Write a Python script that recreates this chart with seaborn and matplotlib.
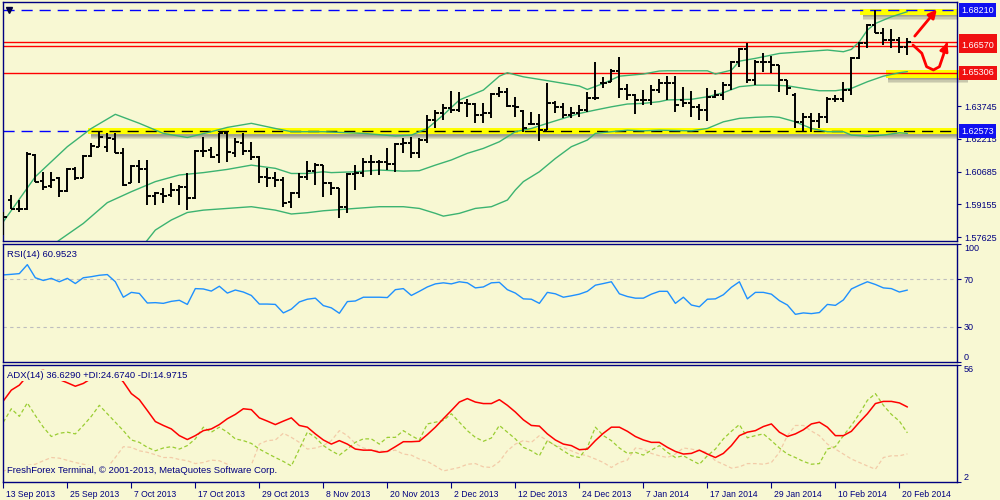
import matplotlib
matplotlib.use('Agg')
import matplotlib.pyplot as plt
import matplotlib.transforms as mtransforms
from matplotlib.patches import Rectangle
import numpy as np
import seaborn as sns

# ---- data (daily GBPUSD style bars, index = bar number) ----
bar_idx = np.arange(114)

opens = [1.5796, 1.5936, 1.5893, 1.5893, 1.6146, 1.6025, 1.6001, 1.6037, 1.5978, 1.6079,
         1.6040, 1.6141, 1.6185, 1.6185, 1.6219, 1.6154, 1.6017, 1.6096, 1.6081, 1.5956,
         1.5962, 1.5959, 1.5983, 1.5995, 1.5944, 1.6165, 1.6169, 1.6146, 1.6250, 1.6157,
         1.6200, 1.6166, 1.6138, 1.6045, 1.6037, 1.6029, 1.5928, 1.5967, 1.6045, 1.6073,
         1.6099, 1.6014, 1.5990, 1.5902, 1.6057, 1.6060, 1.6115, 1.6115, 1.6112, 1.6102,
         1.6197, 1.6200, 1.6154, 1.6216, 1.6309, 1.6340, 1.6364, 1.6356, 1.6387, 1.6384,
         1.6333, 1.6343, 1.6430, 1.6441, 1.6374, 1.6353, 1.6291, 1.6291, 1.6263, 1.6387,
         1.6368, 1.6333, 1.6340, 1.6356, 1.6410, 1.6480, 1.6488, 1.6539, 1.6452, 1.6426,
         1.6403, 1.6403, 1.6449, 1.6480, 1.6480, 1.6403, 1.6387, 1.6371, 1.6356, 1.6418,
         1.6426, 1.6472, 1.6581, 1.6639, 1.6496, 1.6581, 1.6581, 1.6566, 1.6496, 1.6426,
         1.6301, 1.6322, 1.6306, 1.6325, 1.6406, 1.6407, 1.6449, 1.6597, 1.6667, 1.6752,
         1.6714, 1.6682, 1.6682, 1.6651]
highs = [1.5882, 1.5960, 1.5936, 1.6158, 1.6151, 1.6068, 1.6068, 1.6042, 1.6084, 1.6092,
         1.6146, 1.6200, 1.6252, 1.6247, 1.6247, 1.6177, 1.6099, 1.6123, 1.6123, 1.5975,
         1.5990, 1.6014, 1.6006, 1.6060, 1.6169, 1.6228, 1.6185, 1.6250, 1.6255, 1.6224,
         1.6250, 1.6208, 1.6141, 1.6084, 1.6068, 1.6045, 1.5975, 1.6060, 1.6120, 1.6110,
         1.6099, 1.6022, 1.5990, 1.6060, 1.6099, 1.6130, 1.6146, 1.6123, 1.6177, 1.6200,
         1.6224, 1.6231, 1.6224, 1.6333, 1.6356, 1.6384, 1.6444, 1.6441, 1.6406, 1.6387,
         1.6390, 1.6434, 1.6462, 1.6457, 1.6415, 1.6356, 1.6348, 1.6337, 1.6483, 1.6399,
         1.6390, 1.6371, 1.6379, 1.6441, 1.6581, 1.6511, 1.6546, 1.6602, 1.6477, 1.6431,
         1.6449, 1.6472, 1.6503, 1.6514, 1.6514, 1.6462, 1.6446, 1.6384, 1.6457, 1.6449,
         1.6488, 1.6586, 1.6644, 1.6670, 1.6589, 1.6623, 1.6608, 1.6566, 1.6496, 1.6437,
         1.6343, 1.6340, 1.6343, 1.6418, 1.6426, 1.6488, 1.6602, 1.6675, 1.6757, 1.6821,
         1.6741, 1.6732, 1.6698, 1.6690]
lows = [1.5773, 1.5893, 1.5882, 1.5889, 1.6022, 1.5983, 1.5990, 1.5952, 1.5975, 1.6029,
        1.6037, 1.6138, 1.6182, 1.6161, 1.6154, 1.6003, 1.6014, 1.6014, 1.5913, 1.5913,
        1.5920, 1.5952, 1.5913, 1.5889, 1.5939, 1.6138, 1.6130, 1.6110, 1.6115, 1.6138,
        1.6146, 1.6123, 1.6017, 1.5998, 1.5998, 1.5905, 1.5897, 1.5944, 1.6029, 1.6006,
        1.5952, 1.5959, 1.5850, 1.5874, 1.5983, 1.6045, 1.6053, 1.6053, 1.6076, 1.6068,
        1.6154, 1.6130, 1.6130, 1.6200, 1.6270, 1.6309, 1.6340, 1.6348, 1.6325, 1.6297,
        1.6294, 1.6317, 1.6418, 1.6371, 1.6322, 1.6255, 1.6286, 1.6213, 1.6263, 1.6340,
        1.6317, 1.6317, 1.6325, 1.6348, 1.6403, 1.6457, 1.6488, 1.6410, 1.6403, 1.6337,
        1.6379, 1.6379, 1.6434, 1.6403, 1.6348, 1.6371, 1.6325, 1.6309, 1.6306, 1.6410,
        1.6403, 1.6449, 1.6558, 1.6480, 1.6472, 1.6535, 1.6527, 1.6441, 1.6426, 1.6270,
        1.6255, 1.6255, 1.6270, 1.6294, 1.6395, 1.6395, 1.6426, 1.6592, 1.6644, 1.6714,
        1.6659, 1.6644, 1.6623, 1.6612]
closes = [1.5858, 1.5894, 1.5893, 1.6149, 1.6022, 1.5998, 1.6029, 1.5980, 1.6079, 1.6037,
          1.6141, 1.6189, 1.6231, 1.6224, 1.6154, 1.6006, 1.6096, 1.6081, 1.5956, 1.5967,
          1.5955, 1.5983, 1.5998, 1.5944, 1.6166, 1.6166, 1.6138, 1.6247, 1.6161, 1.6205,
          1.6166, 1.6138, 1.6045, 1.6037, 1.6029, 1.5924, 1.5967, 1.6042, 1.6073, 1.6099,
          1.6014, 1.5990, 1.5902, 1.6057, 1.6060, 1.6115, 1.6115, 1.6112, 1.6102, 1.6197,
          1.6200, 1.6154, 1.6216, 1.6309, 1.6340, 1.6364, 1.6356, 1.6387, 1.6384, 1.6333,
          1.6343, 1.6430, 1.6441, 1.6374, 1.6371, 1.6270, 1.6291, 1.6263, 1.6387, 1.6368,
          1.6333, 1.6340, 1.6356, 1.6410, 1.6410, 1.6483, 1.6539, 1.6452, 1.6426, 1.6403,
          1.6403, 1.6449, 1.6480, 1.6480, 1.6379, 1.6387, 1.6371, 1.6356, 1.6418, 1.6426,
          1.6472, 1.6581, 1.6639, 1.6496, 1.6581, 1.6581, 1.6566, 1.6496, 1.6457, 1.6301,
          1.6322, 1.6306, 1.6325, 1.6406, 1.6407, 1.6449, 1.6597, 1.6667, 1.6752, 1.6714,
          1.6682, 1.6682, 1.6651, 1.6675]

# Bollinger bands (read at selected bars)
bb_upper_idx = [0, 4, 8, 11, 14, 17, 20, 23, 26, 28, 31, 34, 36, 40, 45, 49, 51, 53, 55, 57,
                60, 62, 63, 65, 68, 72, 73, 75, 77, 80, 82, 83, 88, 89, 91, 92, 94, 97, 100, 103,
                105, 106, 107, 108, 109, 111, 113]
bb_upper = [1.5835, 1.6045, 1.6185, 1.6270, 1.6336, 1.6294, 1.6247, 1.6228, 1.6255, 1.6275,
            1.6294, 1.6270, 1.6255, 1.6255, 1.6247, 1.6235, 1.6239, 1.6270, 1.6333, 1.6403,
            1.6449, 1.6514, 1.6530, 1.6511, 1.6493, 1.6468, 1.6452, 1.6480, 1.6514, 1.6524,
            1.6538, 1.6539, 1.6539, 1.6524, 1.6542, 1.6584, 1.6597, 1.6620, 1.6628, 1.6636,
            1.6628, 1.6639, 1.6675, 1.6729, 1.6760, 1.6791, 1.6815]
bb_mid_idx = [6, 7, 10, 13, 16, 19, 22, 25, 28, 31, 34, 36, 38, 40, 41, 44, 47, 50, 52, 54,
              56, 58, 60, 62, 64, 66, 68, 70, 72, 74, 76, 78, 80, 82, 83, 86, 88, 90, 92, 94,
              96, 98, 100, 102, 104, 106, 108, 110, 112, 113]
bb_mid = [1.5720, 1.5749, 1.5827, 1.5924, 1.5975, 1.6022, 1.6053, 1.6064, 1.6079, 1.6099,
          1.6084, 1.6060, 1.6060, 1.6068, 1.6064, 1.6068, 1.6076, 1.6071, 1.6073, 1.6099,
          1.6123, 1.6154, 1.6177, 1.6208, 1.6255, 1.6270, 1.6294, 1.6317, 1.6340, 1.6356,
          1.6371, 1.6384, 1.6387, 1.6395, 1.6403, 1.6406, 1.6418, 1.6437, 1.6465, 1.6472,
          1.6472, 1.6469, 1.6457, 1.6446, 1.6446, 1.6457, 1.6488, 1.6514, 1.6530, 1.6535]
bb_lower_idx = [17, 18, 19, 21, 23, 25, 28, 31, 34, 36, 38, 40, 44, 47, 50, 52, 54, 55, 57, 59,
                61, 63, 64, 65, 67, 69, 71, 73, 74, 76, 78, 80, 82, 86, 88, 90, 92, 94, 96, 97,
                99, 101, 103, 105, 106, 108, 110, 112, 113]
bb_lower = [1.5700, 1.5749, 1.5796, 1.5843, 1.5878, 1.5889, 1.5897, 1.5905, 1.5889, 1.5871,
            1.5877, 1.5886, 1.5897, 1.5905, 1.5905, 1.5897, 1.5874, 1.5861, 1.5874, 1.5897,
            1.5905, 1.5936, 1.5983, 1.6022, 1.6068, 1.6130, 1.6185, 1.6216, 1.6247, 1.6255,
            1.6262, 1.6259, 1.6262, 1.6259, 1.6270, 1.6301, 1.6317, 1.6322, 1.6325, 1.6322,
            1.6301, 1.6270, 1.6255, 1.6255, 1.6239, 1.6234, 1.6239, 1.6250, 1.6247]

rsi = [73.8, 74.3, 74.9, 82.5, 71.4, 69.1, 70.9, 68.0, 70.9, 66.5,
       71.4, 72.3, 73.5, 74.1, 68.0, 54.9, 59.0, 58.1, 50.0, 50.3,
       49.7, 51.4, 52.3, 48.8, 62.2, 61.9, 60.1, 64.2, 58.4, 61.0,
       59.3, 56.4, 49.1, 49.1, 48.8, 41.6, 44.8, 50.9, 53.2, 54.1,
       47.8, 45.9, 41.3, 51.2, 51.7, 54.9, 54.9, 54.9, 54.6, 61.3,
       62.2, 56.4, 59.9, 63.6, 66.2, 67.1, 66.2, 68.0, 67.1, 62.8,
       63.6, 67.1, 67.5, 61.3, 58.4, 53.5, 53.2, 49.7, 59.0, 57.8,
       54.9, 56.1, 57.5, 59.9, 65.1, 66.5, 68.0, 57.8, 55.5, 54.1,
       54.1, 57.5, 59.9, 59.9, 49.7, 54.9, 48.3, 46.8, 53.2, 53.5,
       57.0, 63.3, 68.0, 53.5, 59.0, 59.0, 57.5, 52.0, 48.3, 40.4,
       41.6, 41.0, 41.9, 48.8, 48.0, 52.6, 61.9, 65.1, 68.0, 65.7,
       62.8, 62.2, 59.3, 60.95]

adx = [39.4, 44.4, 46.7, 51.0, 53.0, 53.5, 52.5, 49.3, 47.8, 46.2,
       47.5, 49.8, 52.0, 53.0, 52.0, 48.2, 42.8, 40.0, 35.0, 29.9,
       28.1, 26.5, 23.4, 21.6, 23.4, 25.7, 26.5, 28.5, 31.2, 33.2,
       35.8, 35.4, 31.6, 30.1, 28.5, 30.1, 31.6, 28.1, 27.3, 24.2,
       21.4, 19.5, 21.1, 19.5, 17.2, 16.7, 16.7, 15.7, 16.1, 18.3,
       20.6, 20.6, 20.8, 23.9, 27.3, 31.2, 35.0, 38.9, 40.5, 38.9,
       38.2, 38.2, 40.0, 37.4, 34.3, 30.7, 28.1, 27.8, 24.2, 21.4,
       19.5, 18.8, 16.9, 17.2, 21.1, 24.5, 27.3, 27.3, 25.4, 23.0,
       21.4, 20.3, 20.3, 18.0, 16.1, 14.9, 15.2, 16.7, 14.9, 13.3,
       15.2, 18.8, 23.4, 25.0, 25.7, 27.6, 28.8, 25.0, 23.0, 24.2,
       26.1, 28.8, 29.6, 27.3, 23.4, 23.4, 25.4, 29.6, 33.5, 38.2,
       39.2, 39.2, 38.5, 36.63]
plus_di = [29.6, 35.8, 32.3, 38.5, 32.7, 27.3, 23.0, 24.5, 25.0, 24.2,
           28.1, 32.3, 37.4, 33.5, 29.6, 25.7, 21.4, 20.3, 18.0, 16.4,
           17.7, 18.3, 17.2, 18.8, 21.9, 27.3, 25.0, 27.3, 25.0, 21.9,
           21.1, 19.8, 17.2, 15.2, 13.3, 11.5, 9.4, 17.2, 25.0, 22.6,
           18.8, 16.4, 14.4, 17.2, 20.3, 21.9, 21.9, 19.5, 22.6, 22.6,
           25.7, 23.4, 21.4, 28.8, 29.6, 30.4, 33.5, 29.6, 25.7, 22.6,
           20.8, 22.3, 28.1, 25.0, 21.9, 18.0, 16.4, 14.1, 21.1, 18.8,
           16.4, 14.1, 13.3, 18.0, 27.3, 23.4, 21.1, 17.7, 15.2, 15.7,
           14.4, 16.7, 18.8, 15.7, 13.3, 14.1, 12.1, 10.2, 14.1, 17.2,
           21.9, 25.4, 28.5, 22.4, 23.4, 24.2, 21.1, 17.7, 14.9, 13.3,
           11.5, 10.2, 10.5, 17.2, 18.3, 23.4, 28.1, 33.5, 39.7, 42.8,
           37.4, 33.2, 30.1, 24.67]
minus_di = [7.1, 8.0, 9.0, 9.6, 10.2, 11.8, 13.3, 13.0, 12.0, 11.0,
            10.2, 9.4, 9.0, 8.7, 13.3, 18.3, 18.0, 16.4, 15.7, 14.6,
            13.3, 13.3, 12.4, 11.8, 10.5, 11.0, 12.1, 11.8, 10.2, 9.0,
            7.9, 9.9, 19.5, 21.1, 21.4, 24.5, 22.6, 20.3, 17.2, 17.7,
            18.8, 21.1, 25.7, 23.4, 19.8, 17.7, 16.7, 16.4, 16.1, 16.7,
            14.9, 14.4, 12.6, 11.5, 9.4, 7.1, 7.9, 8.7, 10.2, 10.5,
            9.0, 8.7, 11.4, 16.4, 19.5, 21.1, 20.3, 23.4, 21.1, 18.8,
            18.0, 16.4, 14.9, 14.1, 12.6, 11.0, 8.7, 11.0, 12.1, 17.7,
            17.2, 15.2, 14.1, 13.3, 14.9, 17.7, 17.2, 16.4, 15.7, 11.8,
            10.2, 8.4, 9.0, 10.5, 10.5, 10.2, 11.0, 15.7, 23.4, 28.1,
            28.1, 25.5, 23.4, 19.5, 17.2, 14.9, 12.6, 11.0, 9.4, 7.9,
            13.3, 14.1, 14.1, 14.97]

date_bars = [0, 8, 16, 24, 32, 40, 48, 56, 64, 72, 80, 88, 96, 104, 112]
date_labels = ['13 Sep 2013', '25 Sep 2013', '7 Oct 2013', '17 Oct 2013', '29 Oct 2013',
               '8 Nov 2013', '20 Nov 2013', '2 Dec 2013', '12 Dec 2013', '24 Dec 2013',
               '7 Jan 2014', '17 Jan 2014', '29 Jan 2014', '10 Feb 2014', '20 Feb 2014']
price_ticks = [1.57625, 1.59155, 1.60685, 1.62215, 1.63745]

red_levels = [1.66757, 1.66570, 1.65306]
blue_levels = [1.68210, 1.62573]

# hand drawn red arrows (bar, price)
arrow_up_x = [113.7, 116.9]
arrow_up_y = [1.6691, 1.6835]
arrow_dn_x = [113.7, 114.8, 115.4, 116.25, 117.0, 117.5, 117.8, 118.1]
arrow_dn_y = [1.6659, 1.6621, 1.6558, 1.6543, 1.6558, 1.6613, 1.6652, 1.6683]

# ---- style ----
bg = '#F8F8D3'
navy = '#000080'
sns.set_style('white')
plt.rcParams['font.family'] = ['Liberation Sans', 'DejaVu Sans']
plt.rcParams['font.size'] = 6.5

fig = plt.figure(figsize=(10, 5), dpi=100, facecolor=bg)
ax = fig.add_axes([0.003, 1 - 241 / 500, 0.954, 239 / 500])
ax_rsi = fig.add_axes([0.003, 1 - 362 / 500, 0.954, 118 / 500])
ax_adx = fig.add_axes([0.003, 1 - 482 / 500, 0.954, 117 / 500])

xlim = (-0.04, 119.2)
for a in (ax, ax_rsi, ax_adx):
    a.set_facecolor(bg)
    a.set_xlim(*xlim)
    for sp in a.spines.values():
        sp.set_color(navy)
        sp.set_linewidth(1.0)
    a.yaxis.tick_right()
    a.tick_params(axis='y', direction='out', length=3, width=0.8, color=navy,
                  labelcolor=navy, labelsize=6.5, pad=2, left=False)
    a.tick_params(axis='x', bottom=False, labelbottom=False)
    a.set_xlabel('')
    a.set_ylabel('')

# ---- main price pane ----
ax.set_ylim(1.5745, 1.6860)
ax.set_yticks(price_ticks)
ax.set_yticklabels([f'{p:.5f}' for p in price_ticks])


def highlight(a, x0, x1, y0, y1, clip=True):
    h = y1 - y0
    for off in (0.0006, 0.0012, 0.0018, 0.0024):
        a.add_patch(Rectangle((x0 + 0.3, y0 - off), x1 - x0, h, facecolor='#404040',
                              edgecolor='none', alpha=0.14, zorder=1, clip_on=clip))
    a.add_patch(Rectangle((x0, y0), x1 - x0, h, facecolor='#FFFF00', edgecolor='none',
                          zorder=1.2, clip_on=clip))


highlight(ax, 10.6, 121, 1.6243, 1.6273)
highlight(ax, 107.1, 121, 1.6800, 1.6826)
highlight(ax, 110.3, 120.3, 1.6507, 1.6543, clip=False)

ax.axhline(blue_levels[0], color='#0000FF', lw=1, ls=(0, (8, 5)), zorder=2)
ax.axhline(blue_levels[1], color='#0000FF', lw=1, ls=(0, (8, 5)), zorder=1.1)
ax.hlines(blue_levels[1], 11, 121, color='black', lw=1, ls=(0, (8, 5)), zorder=2)
for lvl in red_levels:
    ax.axhline(lvl, color='#FF0000', lw=1, zorder=2)

for xs, ys in ((bb_upper_idx, bb_upper), (bb_mid_idx, bb_mid), (bb_lower_idx, bb_lower)):
    sns.lineplot(x=xs, y=ys, ax=ax, color='#3CB371', lw=1, zorder=2.5)

ax.vlines(bar_idx, lows, highs, color='black', lw=1.4, zorder=3)
ax.hlines(opens, bar_idx - 0.42, bar_idx, color='black', lw=1.4, zorder=3)
ax.hlines(closes, bar_idx, bar_idx + 0.42, color='black', lw=1.4, zorder=3)

ax.plot([0.7], [blue_levels[0]], marker='v', color='#000040', ms=4, zorder=4)

# red hand-drawn arrows
ax.annotate('', xy=(arrow_up_x[1], arrow_up_y[1]), xytext=(arrow_up_x[0], arrow_up_y[0]),
            arrowprops=dict(arrowstyle='-|>', color='#FF0000', lw=2, mutation_scale=12),
            zorder=5, annotation_clip=False)
ax.plot(arrow_dn_x[:-1], arrow_dn_y[:-1], color='#FF0000', lw=2, zorder=5,
        solid_capstyle='round', clip_on=False)
ax.annotate('', xy=(arrow_dn_x[-1], arrow_dn_y[-1]), xytext=(arrow_dn_x[-2], arrow_dn_y[-2]),
            arrowprops=dict(arrowstyle='-|>', color='#FF0000', lw=2, mutation_scale=12),
            zorder=5, annotation_clip=False)

# price labels on the right scale (1.66757 sits partly behind 1.66570, as in the terminal)
ylab = ax.get_yaxis_transform()
box_labels = [(red_levels[0], '#F01010'), (blue_levels[0], '#1010F0'),
              (red_levels[1], '#F01010'), (red_levels[2], '#F01010'),
              (blue_levels[1], '#1010F0')]
for lvl, col in box_labels:
    ax.text(1.0045, lvl, f'{lvl:.5f}', transform=ylab, ha='left', va='center',
            color='white', fontsize=6.5, clip_on=False, zorder=10,
            bbox=dict(boxstyle='square,pad=0.28', fc=col, ec='none'))

# ---- RSI pane ----
sns.lineplot(x=bar_idx, y=rsi, ax=ax_rsi, color='#1E90FF', lw=1)
ax_rsi.set_ylim(0, 100)
for lvl in (70, 30):
    ax_rsi.axhline(lvl, color='#BEBEBE', lw=0.8, ls=(0, (3, 3)), zorder=1)
ax_rsi.set_yticks([0, 30, 70, 100])
ax_rsi.set_yticklabels(['0', '30', '70', '100'])
tl = ax_rsi.get_yticklabels()
tl[0].set_va('bottom')
tl[-1].set_va('top')
ax_rsi.text(0.004, 0.95, 'RSI(14) 60.9523', transform=ax_rsi.transAxes, ha='left', va='top',
            color=navy, fontsize=6.8, zorder=6,
            bbox=dict(boxstyle='square,pad=0.1', fc=bg, ec='none'))

# ---- ADX pane ----
sns.lineplot(x=bar_idx, y=minus_di, ax=ax_adx, color='#F3CBA8', lw=0.9, ls=(0, (3, 2)))
sns.lineplot(x=bar_idx, y=plus_di, ax=ax_adx, color='#9ACD32', lw=0.9, ls=(0, (3, 2)))
sns.lineplot(x=bar_idx, y=adx, ax=ax_adx, color='#FF0000', lw=1.1)
ax_adx.set_ylim(2, 56)
ax_adx.set_yticks([2, 56])
ax_adx.set_yticklabels(['2', '56'])
tl = ax_adx.get_yticklabels()
tl[0].set_va('bottom')
tl[-1].set_va('top')
ax_adx.text(0.004, 0.95, 'ADX(14) 36.6290 +DI:24.6740 -DI:14.9715', transform=ax_adx.transAxes,
            ha='left', va='top', color=navy, fontsize=6.8, zorder=6,
            bbox=dict(boxstyle='square,pad=0.1', fc=bg, ec='none'))
ax_adx.text(0.004, 0.06, 'FreshForex Terminal, © 2001-2013, MetaQuotes Software Corp.',
            transform=ax_adx.transAxes, ha='left', va='bottom', color=navy, fontsize=6.8,
            zorder=6, bbox=dict(boxstyle='square,pad=0.1', fc=bg, ec='none'))

ax_adx.set_xticks(date_bars)
ax_adx.set_xticklabels(date_labels)
ax_adx.tick_params(axis='x', bottom=True, labelbottom=True, direction='out', length=4,
                   width=0.8, color=navy, labelcolor=navy, labelsize=6.2, pad=1.5)
shift = mtransforms.ScaledTranslation(2 / 72, 0, fig.dpi_scale_trans)
for lbl in ax_adx.get_xticklabels():
    lbl.set_ha('left')
    lbl.set_transform(lbl.get_transform() + shift)

for a in (ax, ax_rsi, ax_adx):
    a.set_xlim(*xlim)

fig.savefig('out.png', dpi=100, facecolor=bg)
